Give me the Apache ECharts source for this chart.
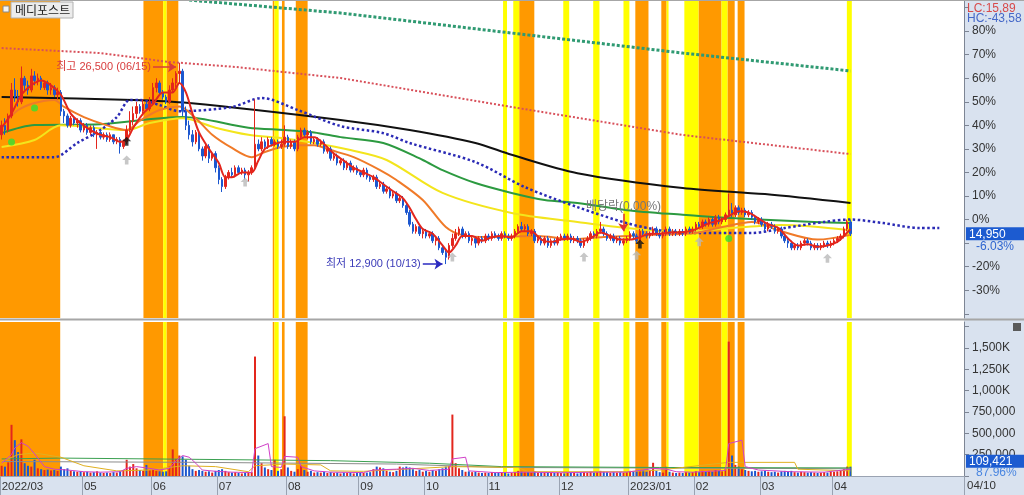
<!DOCTYPE html>
<html><head><meta charset="utf-8">
<script src="https://cdn.jsdelivr.net/npm/echarts@6/dist/echarts.min.js"></script>
<style>html,body{margin:0;padding:0;background:#fff}#c{width:1024px;height:495px}</style>
</head><body><div id="c"></div>
<script>
// ---------------- data ----------------
const stockName = '메디포스트';
const basePrice = 15909;            // price at 0% on the right axis
const totalSlots = 293;             // trading-day slots shown on the x axis (incl. future space)
const firstDate = '2022-03-28';
const holidays = ['2022-05-05','2022-06-01','2022-06-06','2022-08-15','2022-09-09','2022-09-12','2022-10-03','2022-10-10','2022-12-30','2023-01-23','2023-01-24','2023-03-01','2023-05-01','2023-05-05'];
const tickDates = ['2022-03-28','2022-05-02','2022-06-02','2022-07-01','2022-08-01','2022-09-01','2022-10-04','2022-11-01','2022-12-01','2023-01-02','2023-02-01','2023-03-02','2023-04-03'];
const tickTexts = ['2022/03','05','06','07','08','09','10','11','12','2023/01','02','03','04'];
const pctLabels = [80,70,60,50,40,30,20,10,0,-20,-30];
const pctTicks = [90,80,70,60,50,40,30,20,10,0,-10,-20,-30,-40];
const volLabels = [250,500,750,1000,1250,1500];
const volTicks = [0,250,500,750,1000,1250,1500,1750];

// daily candles in % vs basePrice: [open, close, low, high]
const priceOHLC = [
[36,40,34,42],[40,38,36,43],[38,44,37,45],[44,55,43,58],[55,52,50,60],[52,50,48,55],[50,60,49,65],[60,57,55,61],[57,55,53,59],[55,61,54,64],
[61,59,57,63],[59,60,57,62],[60,56,55,61],[56,58,55,59],[58,55,53,59],[55,56,53,58],[56,53,52,57],[53,54,51,56],[54,46,44,55],[46,44,41,47],
[44,40,39,45],[40,43,39,44],[43,41,40,44],[41,42,39,43],[42,38,37,43],[38,40,37,41],[40,37,36,41],[37,39,36,40],[39,36,35,40],[36,37,30,38],
[37,35,34,38],[35,36,34,37],[36,34,33,37],[34,36,33,37],[36,33,32,36],[33,34,32,35],[34,31,28,35],[31,33,30,34],[33,38,32,40],[38,42,37,46],
[42,45,40,48],[45,48,43,50],[48,46,45,49],[46,49,45,51],[49,47,46,50],[47,50,46,52],[50,56,49,58],[56,58,54,60],[58,54,53,59],[54,52,51,55],
[52,50,49,53],[50,55,49,57],[55,58,54,60],[58,62,56,63],[62,63,58,66.6],[63,46,44,64],[46,40,38,48],[40,36,34,42],[36,33,31,38],[33,37,32,38],
[37,30,29,38],[30,27,25,31],[27,31,26,32],[31,26,24,32],[26,28,25,29],[28,22,20,29],[22,17,15,23],[17,14,11.7,18],[14,18,13,19],[18,20,17,21],
[20,19,18,22],[19,22,18,23],[22,20,19,23],[20,21,19,22],[21,19,17,22],[19,20,16,21],[20,22,19,23],[22,32,21,51],[32,30,29,34],[30,33,29,35],
[33,31,30,34],[31,34,30,35],[34,32,31,35],[32,33,31,34],[33,31,30,34],[31,32,30,34],[32,35,31,40],[35,31,30,36],[31,33,30,34],[33,30,29,34],
[30,35,29,36],[35,38,34,39],[38,36,35,39],[36,37,34,38],[37,33,32,38],[33,34,32,35],[34,32,31,35],[32,33,31,34],[33,29,28,34],[29,30,28,31],
[30,26,25,31],[26,27,25,28],[27,24,23,28],[24,25,23,26],[25,22,21,26],[22,24,21,25],[24,21,20,25],[21,22,20,23],[22,20,19,23],[20,19,18,21],
[19,21,18,22],[21,18,17,22],[18,17,16,19],[17,18,16,19],[18,14,13,19],[14,15,13,16],[15,12,11,16],[12,13,11,14],[13,10,9,14],[10,11,9,12],
[11,8,7,12],[8,9,7,10],[9,6,5,10],[6,3,2,7],[3,-2,-3,4],[-2,-5,-6,-1],[-5,-3,-6,-2],[-3,-6,-7,-2],[-6,-5,-8,-4],[-5,-7,-8,-4],
[-7,-6,-8,-5],[-6,-9,-10,-5],[-9,-8,-11,-7],[-8,-12,-13,-7],[-12,-14,-15,-11],[-14,-16,-18.9,-13],[-16,-11,-17,-10],[-11,-8,-12,-6],[-8,-6,-9,-4],[-6,-4,-7,-3],
[-4,-7,-8,-3],[-7,-6,-8,-5],[-6,-9,-10,-5],[-9,-8,-11,-7],[-8,-10,-12,-7],[-10,-8,-11,-7],[-8,-9,-10,-7],[-9,-7,-10,-6],[-7,-8,-9,-6],[-8,-6,-9,-5],
[-6,-7,-8,-5],[-7,-8,-9,-6],[-8,-6,-9,-5],[-6,-7,-8,-5],[-7,-8,-9,-6],[-8,-7,-9,-6],[-7,-5,-8,-4],[-5,-3,-6,-2],[-3,-4,-5,-1],[-4,-3,-5,-2],
[-3,-6,-7,-2],[-6,-5,-7,-4],[-5,-9,-10,-4],[-9,-8,-10,-7],[-8,-10,-11,-7],[-10,-8,-11,-7],[-8,-11,-12,-7],[-11,-9,-12,-8],[-9,-10,-11,-8],[-10,-8,-11,-7],
[-8,-7,-9,-6],[-7,-8,-9,-6],[-8,-7,-9,-6],[-7,-9,-10,-6],[-9,-8,-10,-7],[-8,-9,-10,-7],[-9,-11,-12,-8],[-11,-9,-12,-8],[-9,-8,-10,-7],[-8,-6,-9,-5],
[-6,-7,-8,-5],[-7,-5,-8,-4],[-5,-4,-6,-1],[-4,-6,-7,-3],[-6,-8,-9,-5],[-8,-7,-9,-6],[-7,-9,-10,-6],[-9,-8,-10,-7],[-8,-10,-11,-7],[-10,-9,-11,-8],
[-9,-8,-10,-7],[-8,-6,-9,-5],[-6,-7,-8,-5],[-7,-9,-10,-6],[-9,-5,-10,-4],[-5,-6,-7,-4],[-6,-7,-8,-5],[-7,-6,-8,-5],[-6,-4,-7,-3],[-4,-6,-7,-3],
[-6,-7,-8,-5],[-7,-6,-8,-5],[-6,-4,-7,-3],[-4,-6,-7,-3],[-6,-5,-7,-4],[-5,-6,-7,-4],[-6,-5,-7,-4],[-5,-6,-7,-4],[-6,-4,-7,-3],[-4,-5,-6,-3],
[-5,-4,-6,-3],[-4,-2,-5,-1],[-2,-3,-4,-1],[-3,-1,-4,0],[-1,-2,-3,0],[-2,0,-3,1],[0,-2,-3,1],[-2,1,-3,2],[1,-1,-2,2],[-1,0,-2,1],
[0,2,-1,3],[2,4,1,11],[4,2,1,7],[2,5,1,6],[5,3,2,6],[3,4,2,5],[4,2,1,5],[2,3,1,4],[3,1,0,4],[1,-1,-2,2],
[-1,0,-2,1],[0,-2,-3,1],[-2,-4,-5,-1],[-4,-2,-5,-1],[-2,-3,-4,-1],[-3,-5,-6,-2],[-5,-4,-6,-3],[-4,-7,-8,-3],[-7,-9,-10,-6],[-9,-10,-12,-8],
[-10,-12,-13,-9],[-12,-11,-13,-10],[-11,-12,-13,-10],[-12,-10,-13,-9],[-10,-9,-11,-8],[-9,-10,-11,-8],[-10,-12,-13,-9],[-12,-11,-13,-10],[-11,-12,-13,-10],[-12,-11,-13,-10],
[-11,-10,-12,-9],[-10,-11,-12,-9],[-11,-10,-12,-9],[-10,-9,-11,-8],[-9,-8,-10,-7],[-8,-7,-9,-6],[-7,-4,-8,-3],[-4,-1,-5,0],[-1,-6.03,-7,0]
];
// daily volume, thousands of shares
const volumeK = [
120,110,160,600,420,280,430,150,120,110, 190,90,80,70,75,65,70,60,110,80,
90,60,55,50,55,45,50,40,45,55, 40,35,40,35,45,40,60,70,190,110,
140,90,70,60,130,70,80,60,55,50, 55,110,312,200,240,230,190,120,80,60,
70,60,50,55,40,60,70,80,60,45, 40,45,35,30,35,40,45,1400,240,150,
100,80,70,190,60,80,700,100,60,50, 80,120,70,50,60,40,45,40,50,35,
45,35,40,30,40,35,40,30,35,40, 35,40,45,80,110,100,90,60,50,45,
60,110,100,110,100,80,60,70,50,60, 50,70,60,80,90,110,120,720,150,90,
70,50,55,45,50,40,35,40,35,45, 40,35,40,35,30,35,45,60,50,45,
50,40,55,40,45,40,45,40,35,40, 35,30,35,40,35,30,40,45,40,50,
40,45,60,50,45,40,45,40,45,40, 45,60,50,60,70,70,50,60,155,60,
45,40,108,50,40,35,40,35,45,40, 45,55,45,60,50,60,50,70,60,55,
80,1575,240,130,110,80,70,60,55,60, 50,55,60,50,45,50,40,55,60,55,
60,45,40,50,45,40,45,40,35,40, 45,40,55,50,55,60,80,110,109.421
];
const lastVolRatio = '87.96%';
const lcText = 'LC:15,89', hcText = 'HC:-43,58';

// moving averages / envelope lines: [dayIndex, %]
const ma5 = [[0,39],[3,45],[6,53],[9,57],[12,59],[15,57],[18,53],[21,45],[24,41],[27,38],[30,36],[33,35],[36,33],[38,34],[40,39],[43,45],[46,49],[49,54],[52,54],[54,58],[56,54],[58,45],[60,37],[63,30],[66,24],[68,18],[70,18],[73,20],[76,20],[78,25],[80,30],[83,32],[86,33],[89,33],[92,35],[95,35],[98,32],[101,28],[104,25],[107,22],[110,20],[113,18],[116,15],[119,12],[122,9],[124,5],[126,0],[128,-4],[131,-6],[134,-11],[136,-14],[138,-11],[140,-7],[143,-7],[146,-9],[149,-7.5],[152,-7],[155,-7.5],[158,-5],[161,-5],[164,-8.5],[167,-9.5],[170,-8.5],[173,-8],[176,-9.5],[179,-8],[182,-5.5],[185,-7],[188,-8.5],[191,-8.5],[194,-7.5],[197,-6],[200,-6],[203,-5.5],[206,-5.5],[209,-5],[212,-3.5],[215,-1.5],[218,-0.5],[221,1.5],[224,3.5],[227,3],[230,0.5],[233,-2],[236,-3.5],[239,-8],[242,-11],[245,-10.5],[248,-11.5],[251,-11],[254,-9.5],[256,-7],[258,-4]];
const ma20 = [[1,41],[5,46.5],[10,49.5],[16,50.8],[19,47.8],[25,43.5],[32,40],[38,38],[42,42],[48,46.5],[54,48],[59,43],[64,36],[70,30.4],[76,26.5],[80,28.7],[85,30.8],[90,31.6],[95,31.6],[100,29.5],[107,26.5],[115,21],[120,16.8],[128,8.3],[135,-3.2],[140,-6.6],[148,-7.4],[163,-7],[173,-8.3],[183,-7.4],[198,-6.5],[211,-5.7],[219,-3.2],[228,-1],[237,-5],[248,-8.5],[258,-6.5]];
const ma60 = [[0,30.8],[10,33.8],[18,40],[38,38],[45,41],[55,43],[65,39],[75,36],[85,34.6],[95,32.5],[106,29.5],[117,25.3],[134,11.3],[155,2.8],[175,-1],[190,-3.6],[206,-5.3],[222,-3.6],[237,-2.3],[258,-4.5]];
const ma120 = [[0,36.7],[10,40.1],[30,40.5],[55,43.5],[75,39],[86,38],[95,37],[103,35],[116,32.5],[128,25.3],[134,21],[144,15.5],[155,11.3],[165,8.3],[175,7],[190,4],[207,2],[217,1],[247,-1],[258,-1.5]];
const ma240 = [[0,52],[40,50.8],[57,49.5],[103,42.3],[124,38],[144,32.5],[155,27.5],[175,19.7],[207,13.4],[232,10.8],[258,7]];
const blueDotted = [[0,26.5],[16,26.5],[23,32.5],[30,38],[35,43.5],[39,50.8],[42,50.8],[48,48.6],[54,46],[70,47.8],[79,51.6],[90,46.5],[103,39.7],[116,36.7],[124,32.5],[144,24.4],[159,13.8],[175,5.3],[190,-1.5],[200,-4.5],[211,-5.7],[228,-5.7],[238,-3.6],[250,-1],[258,0],[268,-1.5],[279,-3.6],[285,-3.6]];
const redDotted = [[0,72.8],[30,70.7],[51,66.9],[71,64.8],[103,60.1],[155,47.8],[207,35.9],[258,27.8]];
const greenDotted = [[57,93.2],[103,87.7],[155,79.2],[207,70.7],[258,63.1]];

// volume averages (thousands): [dayIndex, value]
const volMa5 = [[0,150],[3,250],[4,330],[6,390],[8,350],[10,260],[13,110],[16,80],[20,70],[25,50],[30,45],[36,50],[38,90],[41,110],[44,95],[48,70],[51,90],[53,180],[55,240],[57,220],[59,150],[61,70],[65,55],[70,45],[76,40],[77,320],[81,380],[82,110],[85,100],[86,230],[90,220],[91,110],[95,60],[100,45],[110,40],[113,70],[120,80],[125,90],[130,65],[136,80],[137,200],[141,220],[142,60],[150,40],[160,45],[170,38],[180,45],[190,45],[195,70],[198,90],[202,80],[205,50],[210,45],[215,55],[220,65],[221,380],[225,420],[226,110],[230,70],[240,50],[250,45],[258,80]];
const volMa20 = [[0,170],[5,250],[10,270],[18,220],[25,120],[35,60],[45,70],[55,120],[65,110],[75,50],[77,120],[86,140],[97,130],[100,60],[110,55],[120,75],[137,110],[157,100],[160,50],[190,50],[200,70],[221,160],[241,160],[242,80],[258,60]];
const volMa60 = [[0,200],[18,210],[60,195],[100,180],[130,150],[152,110],[200,100],[258,95]];
const volMa120 = [[0,170],[60,160],[120,140],[152,100],[258,85]];

// signal bands, in day-slot units [from, to]
const bandsOrange = [[0,18.3],[43.6,49.6],[50.6,54.2],[82.9,83.4],[85.7,86.5],[89.9,93.5],[157.8,162.4],[193.1,197.1],[201,202.6],[212.3,219.3],[221.1,223.3],[224.2,226.3]];
const bandsYellow = [[49.6,50.6],[83.4,84.7],[152.9,154.1],[156,157.8],[171.2,173],[180.3,182.2],[189.5,191.3],[202.6,203.2],[208,212.3],[219.3,221.1],[257.4,258.9]];

// signal markers: [dayIndex, %]
const grayArrows = [[38,25.3],[74,15.9],[137,-15.9],[177,-15.9],[193,-15.2],[212,-9.4],[251,-16.4]];
const blackArrows = [[38,33.3],[194,-10.4]];
const greenDots = [[3,32.9],[10,47.4],[221,-8.0]];
const exDividendIdx = 189;
const exDividendText = '배당락(0.00%)';

// ---------------- build ----------------
const dates = [];
(function(){
  const d = new Date(firstDate + 'T00:00:00Z');
  while (dates.length < totalSlots) {
    const wd = d.getUTCDay();
    const s = d.toISOString().slice(0,10);
    if (wd !== 0 && wd !== 6 && holidays.indexOf(s) < 0) dates.push(s);
    d.setUTCDate(d.getUTCDate() + 1);
  }
})();
const tickMap = {}; tickDates.forEach((t,i)=>tickMap[t]=tickTexts[i]);
const fmt = v => Math.round(v).toLocaleString('en-US');
const toPrice = p => Math.round(basePrice*(1+p/100)/10)*10;

const UP = '#e3261d', DOWN = '#1c57cf';
const ORANGE = '#ff9900', YELLOW = '#ffff00';
const PCT_MIN = -41.8, PCT_MAX = 92.8, VOL_MAX = 1805;

let hiIdx = 0, loIdx = 0;
priceOHLC.forEach((c,i)=>{ if (c[3] > priceOHLC[hiIdx][3]) hiIdx = i; if (c[2] < priceOHLC[loIdx][2]) loIdx = i; });
const hiVal = priceOHLC[hiIdx][3], loVal = priceOHLC[loIdx][2];
const mmdd = s => s.slice(5,7) + '/' + s.slice(8,10);
const lastIdx = priceOHLC.length - 1;
const lastPct = priceOHLC[lastIdx][1];
const lastVol = volumeK[lastIdx];

const bandData = [].concat(
  bandsOrange.map(b=>[{xAxis:b[0], itemStyle:{color:ORANGE}},{xAxis:b[1]}]),
  bandsYellow.map(b=>[{xAxis:b[0], itemStyle:{color:YELLOW}},{xAxis:b[1]}])
);
const volBars = volumeK.map((v,i)=>({value:v, itemStyle:{color: priceOHLC[i][1] >= priceOHLC[i][0] ? UP : DOWN}}));

function lineS(data, color, width, type, xi, yi, z, smooth){
  return {type:'line', data:data, xAxisIndex:xi, yAxisIndex:yi, symbol:'none', silent:true, z:z,
    smooth: smooth, clip:true, lineStyle:{color:color, width:width, type:type}};
}
const arrowPath = 'path://M5,0L10,5L7,5L7,10L3,10L3,5L0,5Z';
const axisGray = '#7d8594';
const FONT = 'Liberation Sans, Noto Sans CJK KR, sans-serif';

const option = {
  animation:false,
  backgroundColor:'#ffffff',
  textStyle:{fontFamily:FONT},
  grid:[
    {left:0, right:60, top:1, height:317, outerBoundsMode:'none', containLabel:false},
    {left:0, right:60, top:322, height:154, outerBoundsMode:'none', containLabel:false}
  ],
  xAxis:[
    {type:'category', gridIndex:0, data:dates, boundaryGap:true, show:false, axisLine:{onZero:false}},
    {type:'value', gridIndex:0, min:0, max:totalSlots, show:false, axisLine:{onZero:false}},
    {type:'category', gridIndex:1, data:dates, boundaryGap:true,
      axisLine:{show:true, onZero:false, lineStyle:{color:'#9aa3b2'}},
      axisTick:{show:true, interval:(i,v)=>v in tickMap, length:19, lineStyle:{color:'#9aa3b2'}},
      axisLabel:{show:true, interval:(i,v)=>v in tickMap, formatter:v=>tickMap[v]||'', align:'left', margin:5, color:'#333', fontSize:11.5}},
    {type:'value', gridIndex:1, min:0, max:totalSlots, show:false, axisLine:{onZero:false}}
  ],
  yAxis:[
    {type:'value', gridIndex:0, position:'right', min:PCT_MIN, max:PCT_MAX, splitLine:{show:false},
      axisLine:{show:true, onZero:false, lineStyle:{color:axisGray}},
      axisTick:{show:true, customValues:pctTicks, length:5, lineStyle:{color:axisGray}},
      axisLabel:{customValues:pctLabels, formatter:v=>v+'%', margin:8, color:'#333', fontSize:12}},
    {type:'value', gridIndex:0, position:'right', min:PCT_MIN, max:PCT_MAX, splitLine:{show:false},
      axisLine:{show:false, onZero:false}, axisTick:{show:false},
      axisLabel:{customValues:[lastPct], margin:2,
        formatter:()=>'{s| }\n{a|'+fmt(toPrice(lastPct))+'}\n{b|'+lastPct.toFixed(2)+'%}',
        rich:{s:{height:12, lineHeight:12, fontSize:10},
              a:{backgroundColor:'#1c5bd0', color:'#fff', width:52, padding:[1,3,0,3], lineHeight:13, fontSize:12},
              b:{color:'#2f66d0', lineHeight:12, fontSize:12, padding:[0,0,0,10]}}}},
    {type:'value', gridIndex:1, position:'right', min:0, max:VOL_MAX, splitLine:{show:false},
      axisLine:{show:true, onZero:false, lineStyle:{color:axisGray}},
      axisTick:{show:true, customValues:volTicks, length:5, lineStyle:{color:axisGray}},
      axisLabel:{customValues:volLabels, formatter:v=> v>=1000 ? fmt(v)+'K' : fmt(v*1000), margin:8, color:'#333', fontSize:12}},
    {type:'value', gridIndex:1, position:'right', min:0, max:VOL_MAX, splitLine:{show:false},
      axisLine:{show:false, onZero:false}, axisTick:{show:false},
      axisLabel:{customValues:[lastVol], margin:2,
        formatter:()=>'{a|'+fmt(lastVol*1000)+'}\n{b|'+lastVolRatio+'}',
        rich:{a:{backgroundColor:'#1c5bd0', color:'#fff', width:52, padding:[1,3,0,3], lineHeight:13, fontSize:12},
              b:{color:'#4a86e0', lineHeight:11, fontSize:12, padding:[0,0,0,10]}}}}
  ],
  graphic:[
    {type:'rect', shape:{x:964, y:0, width:60, height:495}, style:{fill:'#d9e2ef'}, z:-1, silent:true},
    {type:'rect', shape:{x:0, y:476, width:1024, height:19}, style:{fill:'#d9e2ef'}, z:-1, silent:true},
    {type:'line', shape:{x1:0, y1:0.5, x2:1024, y2:0.5}, style:{stroke:'#a6a6a6', lineWidth:1}, z:50, silent:true},
    {type:'line', shape:{x1:0, y1:319.5, x2:1024, y2:319.5}, style:{stroke:'#a6a6a6', lineWidth:2}, z:50, silent:true},
    {type:'rect', shape:{x:3, y:6, width:6, height:6}, style:{fill:'#f4f4f4', stroke:'#8a8a8a', lineWidth:1}, z:100, silent:true},
    {type:'rect', shape:{x:11, y:2, width:62, height:16}, style:{fill:'#ececec', stroke:'#b0b0b0', lineWidth:1}, z:100, silent:true},
    {type:'text', x:15, y:10, style:{text:stockName, fill:'#222', font:'12px "Noto Sans CJK KR"', verticalAlign:'middle'}, z:101, silent:true},
    {type:'text', x:967, y:9, style:{text:lcText, fill:'#d84a4a', font:'12px '+FONT, verticalAlign:'middle'}, z:100, silent:true},
    {type:'text', x:967, y:19, style:{text:hcText, fill:'#4568c8', font:'12px '+FONT, verticalAlign:'middle'}, z:100, silent:true},
    {type:'rect', shape:{x:1013, y:323, width:8, height:8}, style:{fill:'#5a5a5a'}, z:100, silent:true},
    {type:'text', x:967, y:486, style:{text:mmdd(dates[lastIdx]), fill:'#333', font:'11.5px '+FONT, verticalAlign:'middle'}, z:100, silent:true}
  ],
  series:[
    {type:'line', xAxisIndex:1, yAxisIndex:0, data:[], z:0, silent:true,
      markArea:{silent:true, z:0, data:bandData}},
    {type:'line', xAxisIndex:3, yAxisIndex:2, data:[], z:0, silent:true,
      markArea:{silent:true, z:0, data:bandData}},
    lineS(greenDotted, '#2f9a72', 3, [3,2], 0, 0, 2, false),
    lineS(redDotted, '#d8505a', 2, [2,2], 0, 0, 2, false),
    lineS(ma240, '#111111', 2, 'solid', 0, 0, 2, 0.3),
    lineS(ma120, '#2c9a40', 2, 'solid', 0, 0, 2, 0.3),
    lineS(ma60, '#f3e51c', 2, 'solid', 0, 0, 2, 0.3),
    lineS(blueDotted, '#2a2ab5', 2.5, [2.5,2.5], 0, 0, 3, 0.3),
    lineS(ma20, '#f07a28', 2, 'solid', 0, 0, 3, 0.3),
    {type:'candlestick', xAxisIndex:0, yAxisIndex:0, data:priceOHLC, barWidth:2, z:4, silent:true,
      itemStyle:{color:UP, color0:DOWN, borderColor:UP, borderColor0:DOWN, borderWidth:1},
      markLine:{silent:true, symbol:['none','arrow'], symbolSize:8, animation:false, precision:2,
        data:[
          [{coord:[hiIdx-8, hiVal-1.8], lineStyle:{color:'#d83c3c', width:1.5, type:'solid'},
            label:{show:true, position:'start', distance:2, color:'#d83c3c', fontSize:11,
              formatter:'최고 '+fmt(toPrice(hiVal))+' ('+mmdd(dates[hiIdx])+')'}},
           {coord:[hiIdx-1, hiVal-1.8]}],
          [{coord:[loIdx-7, loVal], lineStyle:{color:'#2a2ac0', width:1.5, type:'solid'},
            label:{show:true, position:'start', distance:2, color:'#3a3ab8', fontSize:11,
              formatter:'최저 '+fmt(toPrice(loVal))+' ('+mmdd(dates[loIdx])+')'}},
           {coord:[loIdx-1, loVal]}],
          [{coord:[exDividendIdx, 2.5], lineStyle:{color:'#e03030', width:1.5, type:'solid'},
            label:{show:true, position:'start', distance:1, color:'#777', fontSize:12, formatter:exDividendText}},
           {coord:[exDividendIdx, -5]}]
        ]}},
    lineS(ma5, '#e3261d', 2, 'solid', 0, 0, 5, 0.3),
    {type:'scatter', xAxisIndex:0, yAxisIndex:0, data:grayArrows, symbol:arrowPath, symbolSize:[9,9], itemStyle:{color:'#b9b9b9'}, z:6, silent:true},
    {type:'scatter', xAxisIndex:0, yAxisIndex:0, data:blackArrows, symbol:arrowPath, symbolSize:[9,9], itemStyle:{color:'#111'}, z:6, silent:true},
    {type:'scatter', xAxisIndex:0, yAxisIndex:0, data:greenDots, symbol:'circle', symbolSize:7, itemStyle:{color:'#33e033'}, z:6, silent:true},
    {type:'bar', xAxisIndex:2, yAxisIndex:2, data:volBars, barWidth:2, z:3, silent:true},
    lineS(volMa120, '#8c8c8c', 1, 'solid', 2, 2, 4, false),
    lineS(volMa60, '#3aa050', 1, 'solid', 2, 2, 4, false),
    lineS(volMa20, '#e0b020', 1, 'solid', 2, 2, 4, false),
    lineS(volMa5, '#d040c8', 1, 'solid', 2, 2, 4, false)
  ]
};
const chart = echarts.init(document.getElementById('c'), null, {renderer:'canvas'});
chart.setOption(option);
</script></body></html>
